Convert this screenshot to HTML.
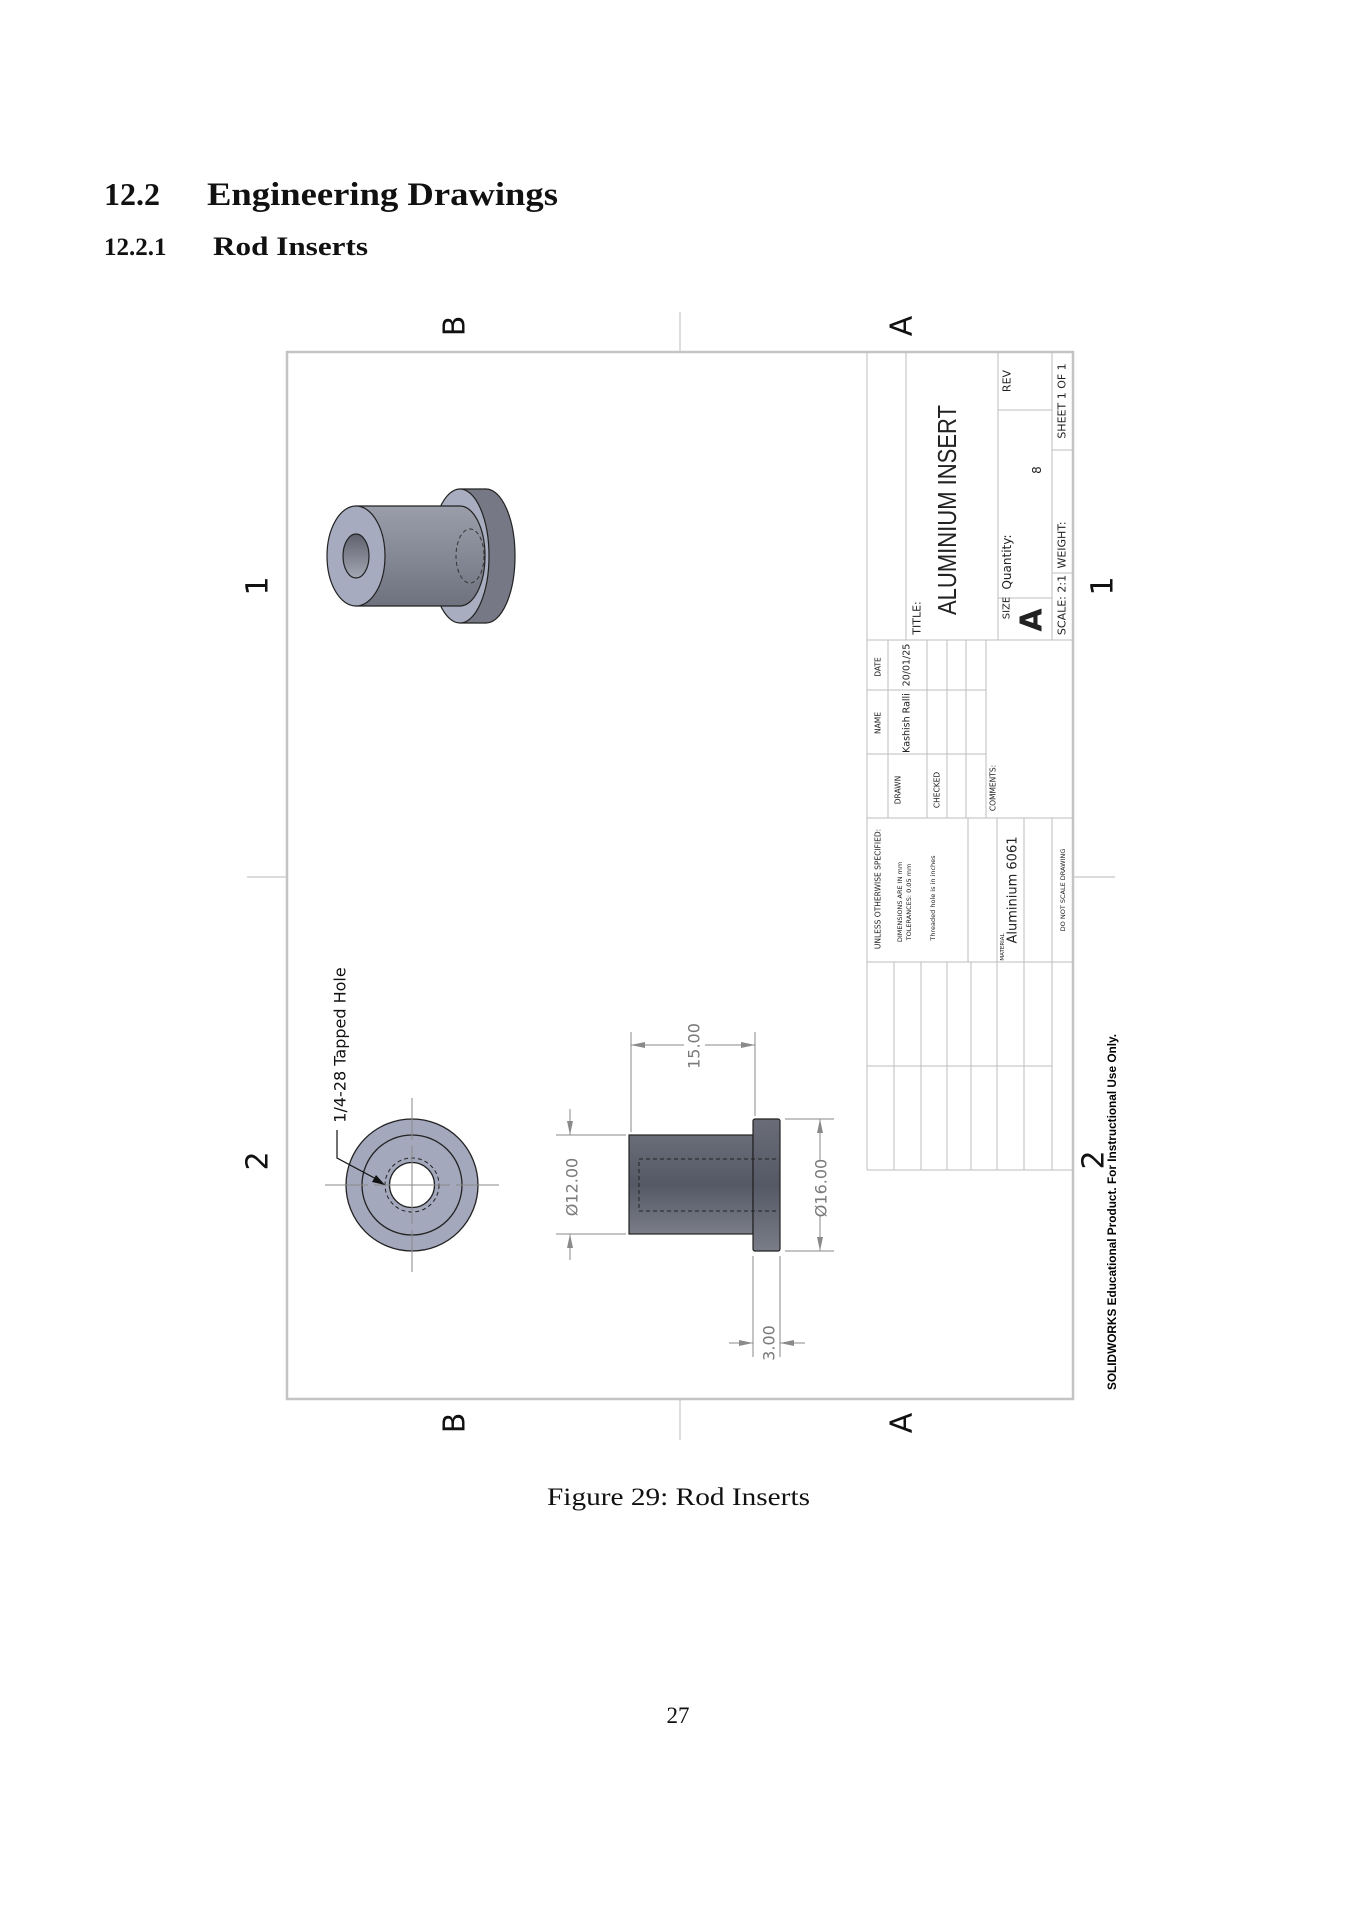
<!DOCTYPE html>
<html><head><meta charset="utf-8"><style>
html,body{margin:0;padding:0;background:#fff;}
body{width:1357px;height:1920px;overflow:hidden;position:relative;}
svg{position:absolute;left:0;top:0;}
</style></head><body>
<svg width="1357" height="1920" viewBox="0 0 1357 1920" xmlns="http://www.w3.org/2000/svg">
<defs>
<linearGradient id="body" x1="0" y1="0" x2="0" y2="1">
<stop offset="0" stop-color="#9a9daa"/><stop offset="0.5" stop-color="#858895"/><stop offset="1" stop-color="#6f727e"/></linearGradient>
<linearGradient id="side" x1="0" y1="0" x2="0" y2="1">
<stop offset="0" stop-color="#6a6d78"/><stop offset="0.5" stop-color="#555965"/><stop offset="1" stop-color="#7a7d88"/></linearGradient>
<linearGradient id="hole" x1="0" y1="0" x2="0" y2="1">
<stop offset="0" stop-color="#5f626d"/><stop offset="1" stop-color="#a3a6b3"/></linearGradient>
</defs>
<g font-family="Liberation Serif, serif" fill="#111">
<text x="104" y="205" font-size="32" font-weight="bold">12.2</text>
<text x="207" y="205" font-size="33" font-weight="bold" textLength="351" lengthAdjust="spacingAndGlyphs">Engineering Drawings</text>
<text x="104" y="255" font-size="25" font-weight="bold">12.2.1</text>
<text x="213" y="255" font-size="26" font-weight="bold" textLength="155" lengthAdjust="spacingAndGlyphs">Rod Inserts</text>
<text x="547" y="1505" font-size="25" textLength="263" lengthAdjust="spacingAndGlyphs">Figure 29: Rod Inserts</text>
<text x="678" y="1723" font-size="23" text-anchor="middle">27</text>
</g>
<!-- frame -->
<rect x="287" y="352" width="786" height="1047" fill="none" stroke="#c4c4c4" stroke-width="2.5"/>
<g stroke="#c8c8c8" stroke-width="1.2">
<line x1="680" y1="312" x2="680" y2="351"/>
<line x1="680" y1="1400" x2="680" y2="1440"/>
<line x1="247" y1="877" x2="286" y2="877"/>
<line x1="1074" y1="877" x2="1115" y2="877"/>
</g>
<g font-family="DejaVu Sans, Liberation Sans, sans-serif" font-size="30" fill="#111" text-anchor="middle" dominant-baseline="central">
<text transform="translate(455,326) rotate(-90)">B</text>
<text transform="translate(902,326) rotate(-90)">A</text>
<text transform="translate(455,1423) rotate(-90)">B</text>
<text transform="translate(902,1423) rotate(-90)">A</text>
<text transform="translate(258,586) rotate(-90)">1</text>
<text transform="translate(258,1161) rotate(-90)">2</text>
<text transform="translate(1103,586) rotate(-90)">1</text>
<text transform="translate(1094,1160) rotate(-90)">2</text>
</g>
<!-- isometric -->
<g stroke="#222" stroke-width="1.2">
<ellipse cx="486" cy="556" rx="29" ry="67" fill="#767985"/>
<rect x="460" y="489" width="26" height="134" fill="#767985" stroke="none"/>
<line x1="460" y1="489" x2="486" y2="489"/><line x1="460" y1="623" x2="486" y2="623"/>
<ellipse cx="460" cy="556" rx="29" ry="67" fill="#a9adc0"/>
<path d="M356,506 L460,506 A25,50 0 0 1 460,606 L356,606 Z" fill="url(#body)"/>
<ellipse cx="470" cy="556" rx="14" ry="27" fill="none" stroke="#333" stroke-dasharray="4,3" stroke-width="1"/>
<ellipse cx="356" cy="556" rx="29" ry="50" fill="#a7abbf"/>
<ellipse cx="356" cy="556" rx="13" ry="22" fill="url(#hole)"/>
</g>
<!-- front view -->
<g stroke="#222" stroke-width="1.3">
<circle cx="412" cy="1185" r="66" fill="#a4a8bc"/>
<circle cx="412" cy="1185" r="50" fill="none"/>
<circle cx="412" cy="1185" r="27" fill="none" stroke-dasharray="4,3" stroke-width="1"/>
<circle cx="412" cy="1185" r="22.5" fill="#fff"/>
</g>
<g stroke="#888" stroke-width="1">
<line x1="325" y1="1185" x2="368" y2="1185"/><line x1="374" y1="1185" x2="450" y2="1185"/><line x1="456" y1="1185" x2="499" y2="1185"/>
<line x1="412" y1="1098" x2="412" y2="1140"/><line x1="412" y1="1146" x2="412" y2="1224"/><line x1="412" y1="1230" x2="412" y2="1272"/>
</g>
<path d="M337,1130 L337,1158 L380,1181" fill="none" stroke="#111" stroke-width="1.2"/>
<polygon points="385,1185 372,1182 376,1175" fill="#111"/>
<text transform="translate(340,1045) rotate(-90)" font-family="DejaVu Sans, Liberation Sans, sans-serif" font-size="16" fill="#111" text-anchor="middle" dominant-baseline="central">1/4-28 Tapped Hole</text>
<!-- side view -->
<g stroke="#222" stroke-width="1.2">
<rect x="629" y="1135" width="124" height="99" fill="url(#side)"/>
<rect x="753" y="1119" width="27" height="132" rx="2" fill="url(#side)"/>
</g>
<g stroke="#222" stroke-width="1" stroke-dasharray="4,3" fill="none">
<path d="M776,1159 L639,1159 L639,1211 L776,1211"/>
</g>
<!-- dimensions -->
<g stroke="#8a8a8a" stroke-width="1" fill="none">
<line x1="631" y1="1032" x2="631" y2="1132"/><line x1="755" y1="1032" x2="755" y2="1116"/>
<line x1="631" y1="1045" x2="684" y2="1045"/><line x1="705" y1="1045" x2="755" y2="1045"/>
<line x1="556" y1="1135" x2="626" y2="1135"/><line x1="556" y1="1234" x2="626" y2="1234"/>
<line x1="570" y1="1109" x2="570" y2="1135"/><line x1="570" y1="1234" x2="570" y2="1260"/>
<line x1="785" y1="1119" x2="834" y2="1119"/><line x1="785" y1="1251" x2="834" y2="1251"/>
<line x1="820" y1="1119" x2="820" y2="1160"/><line x1="820" y1="1216" x2="820" y2="1251"/>
<line x1="753" y1="1256" x2="753" y2="1357"/><line x1="780" y1="1256" x2="780" y2="1357"/>
<line x1="729" y1="1343" x2="753" y2="1343"/><line x1="780" y1="1343" x2="805" y2="1343"/>
</g>
<g fill="#8a8a8a">
<polygon points="631,1045 645,1042 645,1048"/><polygon points="755,1045 741,1042 741,1048"/>
<polygon points="570,1135 567,1121 573,1121"/><polygon points="570,1234 567,1248 573,1248"/>
<polygon points="820,1119 817,1133 823,1133"/><polygon points="820,1251 817,1237 823,1237"/>
<polygon points="753,1343 739,1340 739,1346"/><polygon points="780,1343 794,1340 794,1346"/>
</g>
<g font-family="DejaVu Sans, Liberation Sans, sans-serif" font-size="16" fill="#7a7a7a" text-anchor="middle" dominant-baseline="central">
<text transform="translate(694,1046) rotate(-90)">15.00</text>
<text transform="translate(572,1187) rotate(-90)">Ø12.00</text>
<text transform="translate(821,1188) rotate(-90)">Ø16.00</text>
<text transform="translate(769,1343) rotate(-90)">3.00</text>
</g>
<!-- title block -->
<g stroke="#bdbdbd" stroke-width="1" fill="none">
<line x1="867" y1="352" x2="867" y2="1170"/>
<line x1="867" y1="1170" x2="1073" y2="1170"/>
<line x1="906" y1="352" x2="906" y2="640"/>
<line x1="998" y1="352" x2="998" y2="640"/>
<line x1="1052" y1="352" x2="1052" y2="640"/>
<line x1="998" y1="410" x2="1052" y2="410"/>
<line x1="998" y1="598" x2="1052" y2="598"/>
<line x1="1052" y1="450" x2="1073" y2="450"/>
<line x1="1052" y1="573" x2="1073" y2="573"/>
<line x1="867" y1="640" x2="1073" y2="640"/>
<line x1="888" y1="640" x2="888" y2="818"/>
<line x1="927" y1="640" x2="927" y2="818"/>
<line x1="947" y1="640" x2="947" y2="818"/>
<line x1="966" y1="640" x2="966" y2="818"/>
<line x1="986" y1="640" x2="986" y2="818"/>
<line x1="867" y1="690" x2="986" y2="690"/>
<line x1="867" y1="754" x2="986" y2="754"/>
<line x1="867" y1="818" x2="1073" y2="818"/>
<line x1="968" y1="818" x2="968" y2="962"/>
<line x1="997" y1="818" x2="997" y2="1170"/>
<line x1="1024" y1="818" x2="1024" y2="1170"/>
<line x1="1052" y1="818" x2="1052" y2="1170"/>
<line x1="867" y1="962" x2="1073" y2="962"/>
<line x1="894" y1="962" x2="894" y2="1170"/>
<line x1="921" y1="962" x2="921" y2="1170"/>
<line x1="947" y1="962" x2="947" y2="1170"/>
<line x1="971" y1="962" x2="971" y2="1170"/>
<line x1="867" y1="1066" x2="1052" y2="1066"/>
</g>
<g font-family="DejaVu Sans, Liberation Sans, sans-serif" fill="#222" dominant-baseline="central">
<text transform="translate(947,510) rotate(-90)" font-family="Liberation Sans, sans-serif" font-size="26" text-anchor="middle" textLength="210" lengthAdjust="spacingAndGlyphs">ALUMINIUM INSERT</text>
<text transform="translate(917,618) rotate(-90)" font-size="11" text-anchor="middle">TITLE:</text>
<text transform="translate(1007,608) rotate(-90)" font-size="10" text-anchor="middle">SIZE</text>
<text transform="translate(1032,620) rotate(-90)" font-size="30" font-weight="bold" text-anchor="middle">A</text>
<text transform="translate(1007,562) rotate(-90)" font-size="12" text-anchor="middle">Quantity:</text>
<text transform="translate(1037,470) rotate(-90)" font-size="12" text-anchor="middle">8</text>
<text transform="translate(1007,381) rotate(-90)" font-size="11" text-anchor="middle">REV</text>
<text transform="translate(1062,605) rotate(-90)" font-size="11" text-anchor="middle">SCALE: 2:1</text>
<text transform="translate(1062,545) rotate(-90)" font-size="11" text-anchor="middle">WEIGHT:</text>
<text transform="translate(1062,401) rotate(-90)" font-size="11" text-anchor="middle">SHEET 1 OF 1</text>
<text transform="translate(878,667) rotate(-90)" font-size="7.5" text-anchor="middle">DATE</text>
<text transform="translate(878,723) rotate(-90)" font-size="7.5" text-anchor="middle">NAME</text>
<text transform="translate(907,665) rotate(-90)" font-size="9.5" text-anchor="middle">20/01/25</text>
<text transform="translate(907,723) rotate(-90)" font-size="9.5" text-anchor="middle">Kashish Ralli</text>
<text transform="translate(898,790) rotate(-90)" font-size="7.5" text-anchor="middle">DRAWN</text>
<text transform="translate(937,790) rotate(-90)" font-size="7.5" text-anchor="middle">CHECKED</text>
<text transform="translate(993,788) rotate(-90)" font-size="7.5" text-anchor="middle">COMMENTS:</text>
<text transform="translate(878,889) rotate(-90)" font-size="7.5" text-anchor="middle">UNLESS OTHERWISE SPECIFIED:</text>
<text transform="translate(900,902) rotate(-90)" font-size="6.5" text-anchor="middle">DIMENSIONS ARE IN mm</text>
<text transform="translate(909,902) rotate(-90)" font-size="6.5" text-anchor="middle">TOLERANCES: 0.05 mm</text>
<text transform="translate(933,898) rotate(-90)" font-size="6.5" text-anchor="middle">Threaded hole is in inches</text>
<text transform="translate(1003,947) rotate(-90)" font-size="5.5" text-anchor="middle">MATERIAL</text>
<text transform="translate(1013,890) rotate(-90)" font-size="13" text-anchor="middle">Aluminium 6061</text>
<text transform="translate(1063,890) rotate(-90)" font-size="6.5" text-anchor="middle">DO NOT SCALE DRAWING</text>
<text transform="translate(1113,1212) rotate(-90)" font-family="Liberation Sans, sans-serif" font-size="11.5" font-weight="bold" fill="#000" text-anchor="middle" textLength="356" lengthAdjust="spacingAndGlyphs">SOLIDWORKS Educational Product. For Instructional Use Only.</text>
</g>
</svg>
</body></html>
